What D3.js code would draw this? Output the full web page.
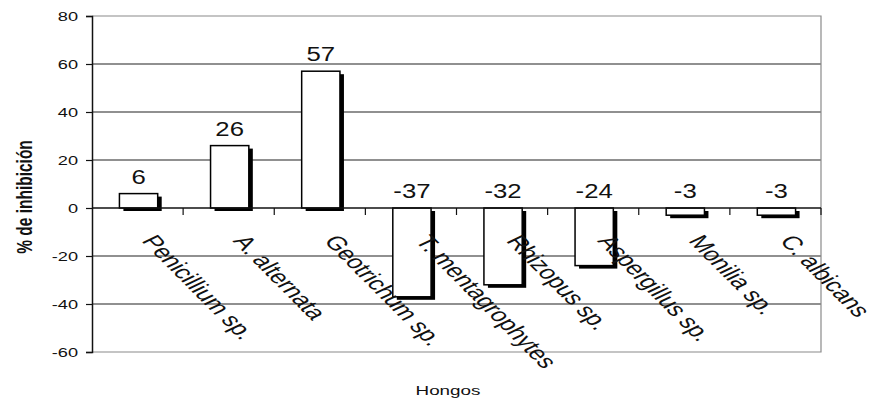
<!DOCTYPE html>
<html>
<head>
<meta charset="utf-8">
<script src="https://cdn.jsdelivr.net/npm/d3@7"></script>
<style>
  html, body { margin: 0; padding: 0; background: #fff; }
  svg { display: block; }
  text { font-family: "Liberation Sans", Arial, sans-serif; fill: #111; }
</style>
</head>
<body>
<svg id="chart" width="875" height="404"></svg>
<script>
// Inhibition (%) of each fungus
const categories = ["Penicillium sp.", "A. alternata", "Geotrichum sp.", "T. mentagrophytes",
                    "Rhizopus sp.", "Aspergillus sp.", "Monilia sp.", "C. albicans"];
const values = [6, 26, 57, -37, -32, -24, -3, -3];
const yTicks = [80, 60, 40, 20, 0, -20, -40, -60];
const xTitle = "Hongos";
const yTitle = "% de inhibición";

const svg = d3.select("#chart");
const SX = 1.45;                // horizontal text stretch
const plot = { left: 92, right: 821, top: 16, bottom: 352 };

const x = d3.scaleBand().domain(categories).range([plot.left, plot.right]).padding(0);
const y = d3.scaleLinear().domain([-60, 80]).range([plot.bottom, plot.top]);

// gridlines
svg.append("g").selectAll("line")
  .data(yTicks.filter(t => t !== 0 && t !== 80 && t !== -60))
  .join("line")
  .attr("x1", plot.left).attr("x2", plot.right)
  .attr("y1", d => y(d)).attr("y2", d => y(d))
  .attr("stroke", "#222").attr("stroke-width", 1.2);

// plot frame (top, right, bottom)
svg.append("path")
  .attr("d", `M${plot.left},${y(80)}H${plot.right}V${y(-60)}H${plot.left}`)
  .attr("fill", "none").attr("stroke", "#8a8a8a").attr("stroke-width", 1.2);

// y axis
const yAxis = d3.axisLeft(y).tickValues(yTicks).tickSize(6).tickFormat(d => String(d));
const gy = svg.append("g").attr("transform", `translate(${plot.left},0)`).call(yAxis);
gy.select(".domain").attr("stroke", "#111").attr("stroke-width", 1.5);
gy.selectAll(".tick line").attr("stroke", "#111").attr("stroke-width", 1.2);
gy.selectAll(".tick text")
  .attr("x", null).attr("dy", null)
  .attr("font-size", 13).attr("font-family", "Liberation Sans, Arial, sans-serif")
  .attr("fill", "#222")
  .attr("text-anchor", "end")
  .attr("dominant-baseline", "central")
  .attr("transform", `translate(-14,0) scale(1.4,1)`);

// bars: shadow then white face
const bw = x.bandwidth() * 0.42;
const bx = d => x(d) + (x.bandwidth() - bw) / 2 + 1;
const bars = svg.append("g");
categories.forEach((c, i) => {
  const v = values[i];
  const top = y(Math.max(v, 0)), bot = y(Math.min(v, 0));
  bars.append("rect")
    .attr("x", bx(c) + 4).attr("y", top + 3)
    .attr("width", bw).attr("height", bot - top)
    .attr("fill", "#000");
  bars.append("rect")
    .attr("x", bx(c)).attr("y", top)
    .attr("width", bw).attr("height", bot - top)
    .attr("fill", "#fff").attr("stroke", "#000").attr("stroke-width", 1.5);
});

// zero axis with category ticks
svg.append("line")
  .attr("x1", plot.left).attr("x2", plot.right)
  .attr("y1", y(0)).attr("y2", y(0))
  .attr("stroke", "#111").attr("stroke-width", 1.5);
const bounds = categories.map(c => x(c)).concat([plot.right]).slice(1);
svg.append("g").selectAll("line").data(bounds).join("line")
  .attr("x1", d => d).attr("x2", d => d)
  .attr("y1", y(0)).attr("y2", y(0) + 7)
  .attr("stroke", "#111").attr("stroke-width", 1.2);

// value labels
svg.append("g").selectAll("text").data(categories).join("text")
  .attr("text-anchor", "middle")
  .attr("font-size", 19.5)
  .attr("transform", (c, i) => `translate(${bx(c) + bw / 2},${y(Math.max(values[i], 0)) - 10}) scale(1.32,1)`)
  .text((c, i) => values[i]);

// category labels, slanted
const ang = Math.atan(SX) * 180 / Math.PI;
svg.append("g").selectAll("text").data(categories).join("text")
  .attr("font-size", 19)
  .attr("transform", c => `translate(${x(c) + x.bandwidth() / 2 + 3.5},${y(0) + 33}) scale(${SX},1) rotate(${ang})`)
  .text(c => c);

// axis titles
svg.append("text")
  .attr("text-anchor", "middle").attr("font-size", 13)
  .attr("transform", `translate(448,395) scale(${SX},1)`)
  .text(xTitle);
svg.append("text")
  .attr("text-anchor", "middle").attr("font-size", 15.5).attr("font-weight", "bold")
  .attr("transform", `translate(32,197) scale(${SX},1) rotate(-90)`)
  .text(yTitle);
</script>
</body>
</html>
